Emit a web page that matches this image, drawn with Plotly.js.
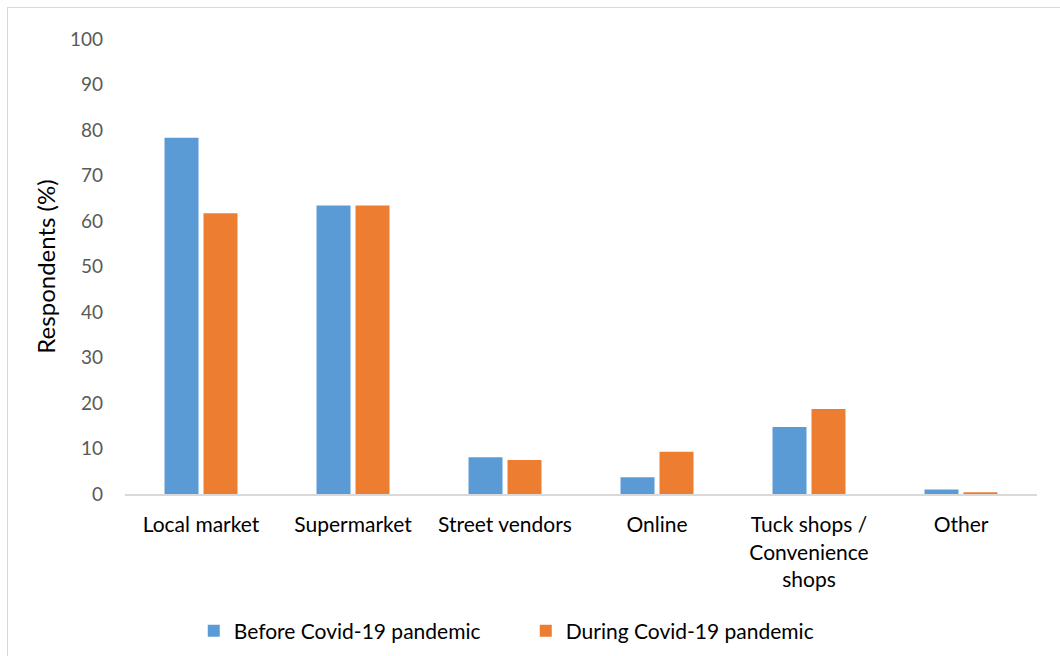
<!DOCTYPE html>
<html>
<head>
<meta charset="utf-8">
<script src="https://cdn.plot.ly/plotly-3.0.1.min.js"></script>
<style>
  html, body { margin: 0; padding: 0; background: #fff; overflow: hidden; }
  #frame { position: absolute; left: 7px; top: 7px; width: 1100px; height: 700px;
           border-left: 1px solid #d9d9d9; border-top: 1px solid #d9d9d9; pointer-events: none; z-index: 5; }
  #chart { width: 1060px; height: 656px; }
</style>
</head>
<body>
<div id="frame"></div>
<div id="chart"></div>
<script>
const categories = ["Local market", "Supermarket", "Street vendors", "Online", "Tuck shops /<br>Convenience<br>shops", "Other"];
const seriesNames = ["Before Covid-19 pandemic", "During Covid-19 pandemic"];
const beforeValues = [78.3, 63.4, 8.1, 3.7, 14.7, 1.0];
const duringValues = [61.7, 63.4, 7.5, 9.3, 18.7, 0.4];
const yTicks = [0, 10, 20, 30, 40, 50, 60, 70, 80, 90, 100];

const font = "Lato, 'Open Sans', sans-serif";
const traces = [
  { type: "bar", name: seriesNames[0], x: categories, y: beforeValues,
    marker: { color: "#5b9bd5" }, hoverinfo: "x+y" },
  { type: "bar", name: seriesNames[1], x: categories, y: duringValues,
    marker: { color: "#ed7d31" }, hoverinfo: "x+y" }
];
const layout = {
  width: 1060, height: 656,
  margin: { l: 125, r: 23, t: 39, b: 162 },
  paper_bgcolor: "#fff", plot_bgcolor: "#fff",
  barmode: "group", bargap: 0.487, bargroupgap: 0.128,
  font: { family: font, size: 21, color: "#000" },
  xaxis: {
    showgrid: false, showline: true, linecolor: "#d9d9d9", linewidth: 2,
    ticks: "", tickfont: { family: font, size: 21, color: "#000" },
    ticklabelstandoff: 11,
    automargin: false
  },
  yaxis: {
    range: [0, 100], tickvals: yTicks, ticktext: yTicks.map(String),
    showgrid: false, zeroline: false, showline: false, ticks: "",
    tickfont: { family: font, size: 19, color: "#595959" }, ticklabelstandoff: 21,
    title: { text: "Respondents (%)", font: { family: font, size: 24, color: "#000" }, standoff: 7 },
    automargin: false
  },
  showlegend: true,
  legend: {
    orientation: "h", x: 0.496, xanchor: "center", xref: "container",
    y: 0.038, yref: "container", yanchor: "middle",
    font: { family: font, size: 21, color: "#000" },
    itemwidth: 30, traceorder: "normal", entrywidth: 287, entrywidthmode: "pixels"
  }
};
Plotly.newPlot("chart", traces, layout, { displayModeBar: false, staticPlot: true });
</script>
</body>
</html>
